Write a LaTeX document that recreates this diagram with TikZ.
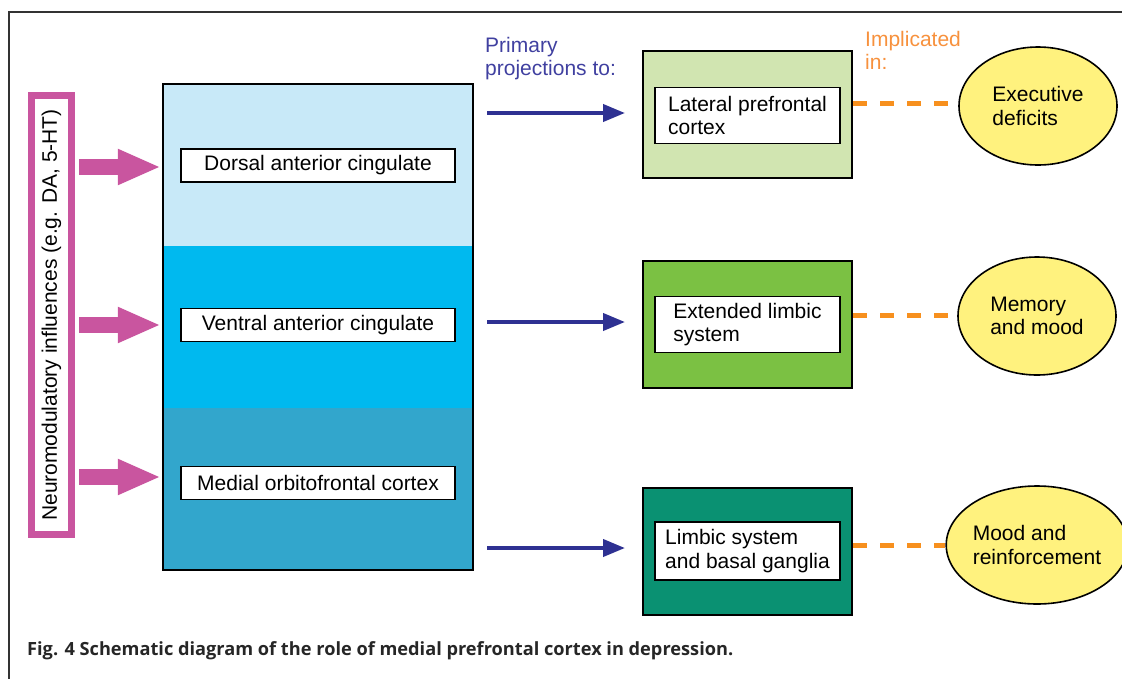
\documentclass[tikz,border=0pt]{standalone}
\usepackage{xcolor}
\usepackage{fontspec}
\setmainfont{Liberation Sans}
\newfontfamily\capfont{Open Sans}
\usetikzlibrary{arrows.meta, positioning, shapes.geometric}

\definecolor{pinkish}{HTML}{C9559F}
\definecolor{navy}{HTML}{2E3192}
\definecolor{navytext}{HTML}{4040A0}
\definecolor{orangeline}{HTML}{F7901E}
\definecolor{orangetext}{HTML}{F7913D}
\definecolor{dorsalblue}{HTML}{C8E9F8}
\definecolor{ventralblue}{HTML}{00B9EF}
\definecolor{medialblue}{HTML}{32A6CC}
\definecolor{lightgreen}{HTML}{D1E5B1}
\definecolor{midgreen}{HTML}{7BC143}
\definecolor{darkgreen}{HTML}{0A9172}
\definecolor{paleyellow}{HTML}{FFF27E}

\begin{document}
\begin{tikzpicture}[x=1pt, y=-1pt,
    every node/.style={font=\fontsize{21}{23.5}\selectfont},
    region/.style={rectangle, minimum width=310pt, minimum height=162pt, inner sep=0pt},
    label box/.style={draw, line width=1.6pt, fill=white, rectangle, minimum width=274pt, minimum height=33pt, inner sep=0pt},
    target/.style={draw, line width=2pt, rectangle, minimum width=209pt, minimum height=127pt},
    target text/.style={draw, line width=1.6pt, fill=white, rectangle, minimum width=185pt, minimum height=56pt, inner sep=0pt, align=left},
    effect/.style={draw, line width=1.6pt, fill=paleyellow, ellipse, minimum width=158pt, minimum height=118pt, inner sep=0pt, align=left},
    influence/.style={pinkish, line width=16pt, -{Triangle[length=43pt, width=33pt]}},
    projection/.style={navy, line width=4pt, -{Triangle[length=22pt, width=17pt]}},
    implication/.style={orangeline, line width=5pt, dash pattern=on 14pt off 13pt}]
    \useasboundingbox (0,0) rectangle (1122,678);

    % Frame
    \draw[line width=1.4pt, black!80] (9,690) -- (9,12) -- (1130,12);

    % Neuromodulatory box
    \node[draw=pinkish, line width=7pt, rotate=90, minimum width=439pt, minimum height=40pt, inner sep=0pt] (neuro) at (51.5,315) {Neuromodulatory influences (e.g. DA, 5-HT)};

    % Medial prefrontal column
    \node[region, fill=dorsalblue] (dorsal) at (318,165) {};
    \node[region, fill=ventralblue] (ventral) at (318,327) {};
    \node[region, fill=medialblue] (medial) at (318,489) {};
    \draw[line width=2pt] (dorsal.north west) rectangle (medial.south east);

    \node[label box] (dacc) at (318,165.5) {Dorsal anterior cingulate};
    \node[label box] (vacc) at (318,325) {Ventral anterior cingulate};
    \node[label box] (mofc) at (318,483) {Medial orbitofrontal cortex};

    % Pink arrows
    \draw[influence] ([xshift=4pt]neuro.south |- 0,167) -- ([xshift=-2pt]dorsal.west |- 0,167);
    \draw[influence] ([xshift=4pt]neuro.south |- 0,325) -- ([xshift=-2pt]ventral.west |- 0,325);
    \draw[influence] ([xshift=4pt]neuro.south |- 0,477) -- ([xshift=-2pt]medial.west |- 0,477);

    % Headers
    \node[navytext, anchor=north west, inner sep=0pt, align=left] (primary) at (485,37) {Primary\\projections to:};
    \node[orangetext, anchor=north west, inner sep=0pt, align=left] (implicated) at (865,31) {Implicated\\in:};

    % Targets
    \node[target, fill=lightgreen] (lateral) at (747.5,114.5) {};
    \node[target, fill=midgreen] (limbic) at (747.5,324.5) {};
    \node[target, fill=darkgreen] (basal) at (747.5,551.5) {};

    \node[target text] (lpfc) at (747.5,115.5) {Lateral prefrontal\\cortex};
    \node[target text] (els) at (747.5,324.5) {Extended limbic\\system};
    \node[target text, minimum height=58pt] (lsbg) at (747.5,551) {Limbic system\\and basal ganglia};

    % Blue arrows
    \coordinate (p1) at (487,113);
    \coordinate (p2) at (487,322);
    \coordinate (p3) at (487,548);
    \draw[projection] (p1) -- ([xshift=-17pt]lateral.west |- p1);
    \draw[projection] (p2) -- ([xshift=-17pt]limbic.west |- p2);
    \draw[projection] (p3) -- ([xshift=-17pt]basal.west |- p3);

    % Effects
    \node[effect] (exec) at (1038,106) {Executive\\deficits};
    \node[effect] (memory) at (1037,316) {Memory\\and mood};
    \node[effect] (mood) at (1037,545) {Mood and\\reinforcement};

    % Orange dashes
    \draw[implication] (lateral.east |- 0,103) -- (exec.west |- 0,103);
    \draw[implication] (limbic.east |- 0,315) -- (memory.west |- 0,315);
    \draw[implication] (basal.east |- 0,545) -- (mood.west |- 0,545);

    % Caption
    \node[anchor=base west, inner sep=0pt, font=\capfont\bfseries\fontsize{18.2}{21}\selectfont, text=black!85] (caption) at (27,655) {Fig. 4 Schematic diagram of the role of medial prefrontal cortex in depression.};
\end{tikzpicture}
\end{document}
